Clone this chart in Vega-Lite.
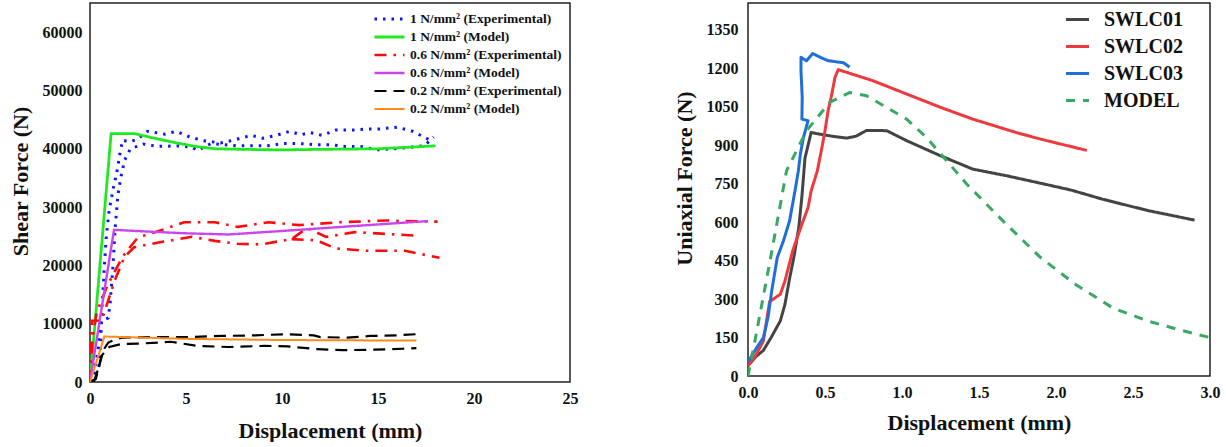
{
"$schema": "https://vega.github.io/schema/vega-lite/v6.json",
"padding": {"left": 8, "top": 2, "right": 0, "bottom": 0},
"background": "white",
"spacing": 93,
"config": {
 "font": "Liberation Serif",
 "view": {"stroke": "#222", "strokeWidth": 1.5},
 "axis": {"domain": false, "ticks": false, "grid": false, "labelFlush": false, "labelFont": "Liberation Serif", "labelFontWeight": "bold", "labelFontSize": 16, "labelColor": "#111", "titleFont": "Liberation Serif", "titleFontWeight": "bold", "titleFontSize": 22, "titleColor": "#111"},
 "legend": {"labelFont": "Liberation Serif", "labelFontWeight": "bold", "labelColor": "#111", "title": null}
},
"resolve": {"scale": {"color": "independent", "strokeDash": "independent", "strokeWidth": "independent", "x": "independent", "y": "independent"}, "legend": {"color": "independent", "strokeDash": "independent", "strokeWidth": "independent"}},
"datasets": {
"shear": [
{"s":"1 N/mm² (Experimental)","r":"b1","i":1,"x":0,"y":0},
{"s":"1 N/mm² (Experimental)","r":"b1","i":2,"x":0.2,"y":1500},
{"s":"1 N/mm² (Experimental)","r":"b1","i":3,"x":0.4,"y":5000},
{"s":"1 N/mm² (Experimental)","r":"b1","i":4,"x":0.55,"y":10000},
{"s":"1 N/mm² (Experimental)","r":"b1","i":5,"x":0.65,"y":14000},
{"s":"1 N/mm² (Experimental)","r":"b1","i":6,"x":0.75,"y":20000},
{"s":"1 N/mm² (Experimental)","r":"b1","i":7,"x":0.85,"y":25000},
{"s":"1 N/mm² (Experimental)","r":"b1","i":8,"x":1.0,"y":29500},
{"s":"1 N/mm² (Experimental)","r":"b1","i":9,"x":1.2,"y":33000},
{"s":"1 N/mm² (Experimental)","r":"b1","i":10,"x":1.4,"y":36000},
{"s":"1 N/mm² (Experimental)","r":"b1","i":11,"x":1.55,"y":39000},
{"s":"1 N/mm² (Experimental)","r":"b1","i":12,"x":1.7,"y":41500},
{"s":"1 N/mm² (Experimental)","r":"b1","i":13,"x":2.0,"y":41200},
{"s":"1 N/mm² (Experimental)","r":"b1","i":14,"x":2.4,"y":41500},
{"s":"1 N/mm² (Experimental)","r":"b1","i":15,"x":3.0,"y":43000},
{"s":"1 N/mm² (Experimental)","r":"b1","i":16,"x":3.9,"y":42500},
{"s":"1 N/mm² (Experimental)","r":"b1","i":17,"x":4.5,"y":43000},
{"s":"1 N/mm² (Experimental)","r":"b1","i":18,"x":5.2,"y":42000},
{"s":"1 N/mm² (Experimental)","r":"b1","i":19,"x":5.9,"y":41400},
{"s":"1 N/mm² (Experimental)","r":"b1","i":20,"x":6.8,"y":41000},
{"s":"1 N/mm² (Experimental)","r":"b1","i":21,"x":7.5,"y":41500},
{"s":"1 N/mm² (Experimental)","r":"b1","i":22,"x":8.4,"y":42300},
{"s":"1 N/mm² (Experimental)","r":"b1","i":23,"x":9.0,"y":41800},
{"s":"1 N/mm² (Experimental)","r":"b1","i":24,"x":9.7,"y":42300},
{"s":"1 N/mm² (Experimental)","r":"b1","i":25,"x":10.4,"y":43000},
{"s":"1 N/mm² (Experimental)","r":"b1","i":26,"x":11.0,"y":42400},
{"s":"1 N/mm² (Experimental)","r":"b1","i":27,"x":11.45,"y":42800},
{"s":"1 N/mm² (Experimental)","r":"b1","i":28,"x":12.1,"y":42300},
{"s":"1 N/mm² (Experimental)","r":"b1","i":29,"x":12.8,"y":43200},
{"s":"1 N/mm² (Experimental)","r":"b1","i":30,"x":13.7,"y":43200},
{"s":"1 N/mm² (Experimental)","r":"b1","i":31,"x":14.5,"y":43400},
{"s":"1 N/mm² (Experimental)","r":"b1","i":32,"x":15.1,"y":43400},
{"s":"1 N/mm² (Experimental)","r":"b1","i":33,"x":16.0,"y":43700},
{"s":"1 N/mm² (Experimental)","r":"b1","i":34,"x":16.8,"y":43000},
{"s":"1 N/mm² (Experimental)","r":"b1","i":35,"x":17.4,"y":42000},
{"s":"1 N/mm² (Experimental)","r":"b1","i":36,"x":17.7,"y":41500},
{"s":"1 N/mm² (Experimental)","r":"b2","i":40,"x":0.1,"y":0},
{"s":"1 N/mm² (Experimental)","r":"b2","i":41,"x":0.45,"y":2300},
{"s":"1 N/mm² (Experimental)","r":"b2","i":42,"x":0.55,"y":6000},
{"s":"1 N/mm² (Experimental)","r":"b2","i":43,"x":0.6,"y":10500},
{"s":"1 N/mm² (Experimental)","r":"b2","i":44,"x":0.95,"y":11000},
{"s":"1 N/mm² (Experimental)","r":"b2","i":45,"x":1.05,"y":13600},
{"s":"1 N/mm² (Experimental)","r":"b2","i":46,"x":1.2,"y":20000},
{"s":"1 N/mm² (Experimental)","r":"b2","i":47,"x":1.3,"y":26000},
{"s":"1 N/mm² (Experimental)","r":"b2","i":48,"x":1.45,"y":32000},
{"s":"1 N/mm² (Experimental)","r":"b2","i":49,"x":1.6,"y":35000},
{"s":"1 N/mm² (Experimental)","r":"b2","i":50,"x":1.8,"y":38000},
{"s":"1 N/mm² (Experimental)","r":"b2","i":51,"x":2.1,"y":40000},
{"s":"1 N/mm² (Experimental)","r":"b2","i":52,"x":2.8,"y":40800},
{"s":"1 N/mm² (Experimental)","r":"b2","i":53,"x":3.5,"y":40400},
{"s":"1 N/mm² (Experimental)","r":"b2","i":54,"x":4.6,"y":40500},
{"s":"1 N/mm² (Experimental)","r":"b2","i":55,"x":5.3,"y":40300},
{"s":"1 N/mm² (Experimental)","r":"b2","i":56,"x":5.6,"y":39700},
{"s":"1 N/mm² (Experimental)","r":"b2","i":57,"x":6.3,"y":40900},
{"s":"1 N/mm² (Experimental)","r":"b2","i":58,"x":7.0,"y":40700},
{"s":"1 N/mm² (Experimental)","r":"b2","i":59,"x":7.7,"y":40500},
{"s":"1 N/mm² (Experimental)","r":"b2","i":60,"x":8.3,"y":40500},
{"s":"1 N/mm² (Experimental)","r":"b2","i":61,"x":9.2,"y":40500},
{"s":"1 N/mm² (Experimental)","r":"b2","i":62,"x":10.1,"y":40900},
{"s":"1 N/mm² (Experimental)","r":"b2","i":63,"x":10.9,"y":40900},
{"s":"1 N/mm² (Experimental)","r":"b2","i":64,"x":11.65,"y":40700},
{"s":"1 N/mm² (Experimental)","r":"b2","i":65,"x":12.5,"y":40700},
{"s":"1 N/mm² (Experimental)","r":"b2","i":66,"x":13.3,"y":40400},
{"s":"1 N/mm² (Experimental)","r":"b2","i":67,"x":14.1,"y":40400},
{"s":"1 N/mm² (Experimental)","r":"b2","i":68,"x":14.9,"y":39800},
{"s":"1 N/mm² (Experimental)","r":"b2","i":69,"x":15.75,"y":40000},
{"s":"1 N/mm² (Experimental)","r":"b2","i":70,"x":16.5,"y":40200},
{"s":"1 N/mm² (Experimental)","r":"b2","i":71,"x":17.4,"y":40500},
{"s":"1 N/mm² (Experimental)","r":"b2","i":72,"x":17.9,"y":42000},
{"s":"1 N/mm² (Model)","r":"g","i":80,"x":0,"y":0},
{"s":"1 N/mm² (Model)","r":"g","i":81,"x":1.1,"y":42600},
{"s":"1 N/mm² (Model)","r":"g","i":82,"x":2.3,"y":42600},
{"s":"1 N/mm² (Model)","r":"g","i":83,"x":3.5,"y":41700},
{"s":"1 N/mm² (Model)","r":"g","i":84,"x":4.5,"y":41000},
{"s":"1 N/mm² (Model)","r":"g","i":85,"x":5.5,"y":40400},
{"s":"1 N/mm² (Model)","r":"g","i":86,"x":6.5,"y":40000},
{"s":"1 N/mm² (Model)","r":"g","i":87,"x":8,"y":39900},
{"s":"1 N/mm² (Model)","r":"g","i":88,"x":10,"y":39800},
{"s":"1 N/mm² (Model)","r":"g","i":89,"x":12,"y":39900},
{"s":"1 N/mm² (Model)","r":"g","i":90,"x":15,"y":40000},
{"s":"1 N/mm² (Model)","r":"g","i":91,"x":18,"y":40500},
{"s":"0.6 N/mm² (Experimental)","r":"r1","i":100,"x":0,"y":0},
{"s":"0.6 N/mm² (Experimental)","r":"r1","i":101,"x":0.1,"y":6000},
{"s":"0.6 N/mm² (Experimental)","r":"r1","i":102,"x":0.2,"y":9000},
{"s":"0.6 N/mm² (Experimental)","r":"r1","i":103,"x":0.35,"y":12000},
{"s":"0.6 N/mm² (Experimental)","r":"r1","i":104,"x":0.6,"y":14000},
{"s":"0.6 N/mm² (Experimental)","r":"r1","i":105,"x":0.9,"y":16500},
{"s":"0.6 N/mm² (Experimental)","r":"r1","i":106,"x":1.3,"y":19000},
{"s":"0.6 N/mm² (Experimental)","r":"r1","i":107,"x":1.7,"y":21500},
{"s":"0.6 N/mm² (Experimental)","r":"r1","i":108,"x":2.1,"y":23200},
{"s":"0.6 N/mm² (Experimental)","r":"r1","i":109,"x":2.5,"y":24800},
{"s":"0.6 N/mm² (Experimental)","r":"r1","i":110,"x":3.5,"y":25800},
{"s":"0.6 N/mm² (Experimental)","r":"r1","i":111,"x":4.9,"y":27400},
{"s":"0.6 N/mm² (Experimental)","r":"r1","i":112,"x":6.5,"y":27400},
{"s":"0.6 N/mm² (Experimental)","r":"r1","i":113,"x":7.7,"y":26600},
{"s":"0.6 N/mm² (Experimental)","r":"r1","i":114,"x":9.3,"y":27400},
{"s":"0.6 N/mm² (Experimental)","r":"r1","i":115,"x":10.9,"y":26900},
{"s":"0.6 N/mm² (Experimental)","r":"r1","i":116,"x":13,"y":27400},
{"s":"0.6 N/mm² (Experimental)","r":"r1","i":117,"x":15.4,"y":27700},
{"s":"0.6 N/mm² (Experimental)","r":"r1","i":118,"x":18.1,"y":27500},
{"s":"0.6 N/mm² (Experimental)","r":"r2","i":120,"x":0,"y":0},
{"s":"0.6 N/mm² (Experimental)","r":"r2","i":121,"x":0.1,"y":10500},
{"s":"0.6 N/mm² (Experimental)","r":"r2","i":122,"x":0.6,"y":10500},
{"s":"0.6 N/mm² (Experimental)","r":"r2","i":123,"x":0.9,"y":13500},
{"s":"0.6 N/mm² (Experimental)","r":"r2","i":124,"x":1.3,"y":17500},
{"s":"0.6 N/mm² (Experimental)","r":"r2","i":125,"x":1.8,"y":21500},
{"s":"0.6 N/mm² (Experimental)","r":"r2","i":126,"x":2.3,"y":23100},
{"s":"0.6 N/mm² (Experimental)","r":"r2","i":127,"x":3.7,"y":24000},
{"s":"0.6 N/mm² (Experimental)","r":"r2","i":128,"x":5.3,"y":24900},
{"s":"0.6 N/mm² (Experimental)","r":"r2","i":129,"x":6.5,"y":24200},
{"s":"0.6 N/mm² (Experimental)","r":"r2","i":130,"x":7.7,"y":23700},
{"s":"0.6 N/mm² (Experimental)","r":"r2","i":131,"x":8.9,"y":23600},
{"s":"0.6 N/mm² (Experimental)","r":"r2","i":132,"x":10.5,"y":24500},
{"s":"0.6 N/mm² (Experimental)","r":"r2","i":133,"x":11.3,"y":26400},
{"s":"0.6 N/mm² (Experimental)","r":"r2","i":134,"x":12.3,"y":24900},
{"s":"0.6 N/mm² (Experimental)","r":"r2","i":135,"x":13.8,"y":25700},
{"s":"0.6 N/mm² (Experimental)","r":"r2","i":136,"x":15.4,"y":25400},
{"s":"0.6 N/mm² (Experimental)","r":"r2","i":137,"x":17.0,"y":25100},
{"s":"0.6 N/mm² (Experimental)","r":"r3","i":140,"x":10.5,"y":24500},
{"s":"0.6 N/mm² (Experimental)","r":"r3","i":141,"x":11.8,"y":24300},
{"s":"0.6 N/mm² (Experimental)","r":"r3","i":142,"x":12.8,"y":22900},
{"s":"0.6 N/mm² (Experimental)","r":"r3","i":143,"x":14.4,"y":22500},
{"s":"0.6 N/mm² (Experimental)","r":"r3","i":144,"x":16.4,"y":22500},
{"s":"0.6 N/mm² (Experimental)","r":"r3","i":145,"x":18.2,"y":21300},
{"s":"0.6 N/mm² (Model)","r":"p","i":150,"x":0,"y":0},
{"s":"0.6 N/mm² (Model)","r":"p","i":151,"x":1.25,"y":26100},
{"s":"0.6 N/mm² (Model)","r":"p","i":152,"x":3,"y":25800},
{"s":"0.6 N/mm² (Model)","r":"p","i":153,"x":5,"y":25500},
{"s":"0.6 N/mm² (Model)","r":"p","i":154,"x":7.2,"y":25300},
{"s":"0.6 N/mm² (Model)","r":"p","i":155,"x":10,"y":25900},
{"s":"0.6 N/mm² (Model)","r":"p","i":156,"x":14,"y":26800},
{"s":"0.6 N/mm² (Model)","r":"p","i":157,"x":17.6,"y":27600},
{"s":"0.2 N/mm² (Experimental)","r":"k1","i":160,"x":0,"y":0},
{"s":"0.2 N/mm² (Experimental)","r":"k1","i":161,"x":0.3,"y":500},
{"s":"0.2 N/mm² (Experimental)","r":"k1","i":162,"x":0.5,"y":3000},
{"s":"0.2 N/mm² (Experimental)","r":"k1","i":163,"x":0.7,"y":5500},
{"s":"0.2 N/mm² (Experimental)","r":"k1","i":164,"x":0.95,"y":6750},
{"s":"0.2 N/mm² (Experimental)","r":"k1","i":165,"x":1.3,"y":7300},
{"s":"0.2 N/mm² (Experimental)","r":"k1","i":166,"x":1.65,"y":7600},
{"s":"0.2 N/mm² (Experimental)","r":"k1","i":167,"x":3.4,"y":7700},
{"s":"0.2 N/mm² (Experimental)","r":"k1","i":168,"x":5.1,"y":7700},
{"s":"0.2 N/mm² (Experimental)","r":"k1","i":169,"x":6.85,"y":7900},
{"s":"0.2 N/mm² (Experimental)","r":"k1","i":170,"x":8.6,"y":8000},
{"s":"0.2 N/mm² (Experimental)","r":"k1","i":171,"x":10.2,"y":8200},
{"s":"0.2 N/mm² (Experimental)","r":"k1","i":172,"x":11.65,"y":8000},
{"s":"0.2 N/mm² (Experimental)","r":"k1","i":173,"x":12,"y":7700},
{"s":"0.2 N/mm² (Experimental)","r":"k1","i":174,"x":13.4,"y":7600},
{"s":"0.2 N/mm² (Experimental)","r":"k1","i":175,"x":14.6,"y":7900},
{"s":"0.2 N/mm² (Experimental)","r":"k1","i":176,"x":16,"y":8000},
{"s":"0.2 N/mm² (Experimental)","r":"k1","i":177,"x":17,"y":8200},
{"s":"0.2 N/mm² (Experimental)","r":"k1","i":178,"x":17.2,"y":8500},
{"s":"0.2 N/mm² (Experimental)","r":"k2","i":180,"x":0.2,"y":0},
{"s":"0.2 N/mm² (Experimental)","r":"k2","i":181,"x":0.45,"y":2500},
{"s":"0.2 N/mm² (Experimental)","r":"k2","i":182,"x":0.6,"y":4500},
{"s":"0.2 N/mm² (Experimental)","r":"k2","i":183,"x":1.0,"y":6000},
{"s":"0.2 N/mm² (Experimental)","r":"k2","i":184,"x":1.6,"y":6500},
{"s":"0.2 N/mm² (Experimental)","r":"k2","i":185,"x":2.7,"y":6600},
{"s":"0.2 N/mm² (Experimental)","r":"k2","i":186,"x":4.2,"y":6900},
{"s":"0.2 N/mm² (Experimental)","r":"k2","i":187,"x":5.6,"y":6200},
{"s":"0.2 N/mm² (Experimental)","r":"k2","i":188,"x":7.2,"y":6000},
{"s":"0.2 N/mm² (Experimental)","r":"k2","i":189,"x":9.1,"y":6200},
{"s":"0.2 N/mm² (Experimental)","r":"k2","i":190,"x":10.3,"y":6100},
{"s":"0.2 N/mm² (Experimental)","r":"k2","i":191,"x":11.75,"y":5650},
{"s":"0.2 N/mm² (Experimental)","r":"k2","i":192,"x":13.2,"y":5450},
{"s":"0.2 N/mm² (Experimental)","r":"k2","i":193,"x":14.8,"y":5550},
{"s":"0.2 N/mm² (Experimental)","r":"k2","i":194,"x":16.3,"y":5700},
{"s":"0.2 N/mm² (Experimental)","r":"k2","i":195,"x":17,"y":5800},
{"s":"0.2 N/mm² (Model)","r":"o","i":200,"x":0,"y":0},
{"s":"0.2 N/mm² (Model)","r":"o","i":201,"x":0.75,"y":7800},
{"s":"0.2 N/mm² (Model)","r":"o","i":202,"x":5,"y":7400},
{"s":"0.2 N/mm² (Model)","r":"o","i":203,"x":10,"y":7200},
{"s":"0.2 N/mm² (Model)","r":"o","i":204,"x":17,"y":7100}
],
"uni": [
{"s":"SWLC01","i":1,"x":0,"y":40},{"s":"SWLC01","i":2,"x":0.05,"y":75},{"s":"SWLC01","i":3,"x":0.1,"y":100},{"s":"SWLC01","i":4,"x":0.15,"y":150},{"s":"SWLC01","i":5,"x":0.21,"y":215},{"s":"SWLC01","i":6,"x":0.24,"y":280},{"s":"SWLC01","i":7,"x":0.27,"y":380},{"s":"SWLC01","i":8,"x":0.3,"y":470},{"s":"SWLC01","i":9,"x":0.33,"y":580},{"s":"SWLC01","i":10,"x":0.35,"y":700},{"s":"SWLC01","i":11,"x":0.37,"y":850},{"s":"SWLC01","i":12,"x":0.39,"y":900},{"s":"SWLC01","i":13,"x":0.41,"y":950},{"s":"SWLC01","i":14,"x":0.45,"y":945},{"s":"SWLC01","i":15,"x":0.55,"y":935},{"s":"SWLC01","i":16,"x":0.64,"y":928},{"s":"SWLC01","i":17,"x":0.7,"y":935},{"s":"SWLC01","i":18,"x":0.77,"y":958},{"s":"SWLC01","i":19,"x":0.9,"y":957},{"s":"SWLC01","i":20,"x":1.03,"y":918},{"s":"SWLC01","i":21,"x":1.25,"y":859},{"s":"SWLC01","i":22,"x":1.46,"y":807},{"s":"SWLC01","i":23,"x":1.68,"y":781},{"s":"SWLC01","i":24,"x":1.9,"y":752},{"s":"SWLC01","i":25,"x":2.1,"y":725},{"s":"SWLC01","i":26,"x":2.3,"y":690},{"s":"SWLC01","i":27,"x":2.6,"y":645},{"s":"SWLC01","i":28,"x":2.9,"y":608},
{"s":"SWLC02","i":30,"x":0,"y":40},{"s":"SWLC02","i":31,"x":0.05,"y":80},{"s":"SWLC02","i":32,"x":0.1,"y":137},{"s":"SWLC02","i":33,"x":0.14,"y":290},{"s":"SWLC02","i":34,"x":0.21,"y":319},{"s":"SWLC02","i":35,"x":0.24,"y":371},{"s":"SWLC02","i":36,"x":0.29,"y":488},{"s":"SWLC02","i":37,"x":0.35,"y":592},{"s":"SWLC02","i":38,"x":0.39,"y":657},{"s":"SWLC02","i":39,"x":0.41,"y":722},{"s":"SWLC02","i":40,"x":0.45,"y":800},{"s":"SWLC02","i":41,"x":0.48,"y":891},{"s":"SWLC02","i":42,"x":0.5,"y":957},{"s":"SWLC02","i":43,"x":0.52,"y":1035},{"s":"SWLC02","i":44,"x":0.54,"y":1087},{"s":"SWLC02","i":45,"x":0.565,"y":1165},{"s":"SWLC02","i":46,"x":0.586,"y":1195},{"s":"SWLC02","i":47,"x":0.81,"y":1152},{"s":"SWLC02","i":48,"x":1.03,"y":1100},{"s":"SWLC02","i":49,"x":1.25,"y":1048},{"s":"SWLC02","i":50,"x":1.46,"y":1002},{"s":"SWLC02","i":51,"x":1.74,"y":950},{"s":"SWLC02","i":52,"x":1.9,"y":924},{"s":"SWLC02","i":53,"x":2.2,"y":880},
{"s":"SWLC03","i":60,"x":0,"y":55},{"s":"SWLC03","i":61,"x":0.056,"y":110},{"s":"SWLC03","i":62,"x":0.1,"y":150},{"s":"SWLC03","i":63,"x":0.13,"y":228},{"s":"SWLC03","i":64,"x":0.154,"y":332},{"s":"SWLC03","i":65,"x":0.19,"y":462},{"s":"SWLC03","i":66,"x":0.23,"y":527},{"s":"SWLC03","i":67,"x":0.27,"y":605},{"s":"SWLC03","i":68,"x":0.305,"y":722},{"s":"SWLC03","i":69,"x":0.327,"y":800},{"s":"SWLC03","i":70,"x":0.34,"y":866},{"s":"SWLC03","i":71,"x":0.36,"y":930},{"s":"SWLC03","i":72,"x":0.39,"y":996},{"s":"SWLC03","i":73,"x":0.35,"y":1002},{"s":"SWLC03","i":74,"x":0.352,"y":1087},{"s":"SWLC03","i":75,"x":0.344,"y":1191},{"s":"SWLC03","i":76,"x":0.344,"y":1243},{"s":"SWLC03","i":77,"x":0.38,"y":1230},{"s":"SWLC03","i":78,"x":0.42,"y":1258},{"s":"SWLC03","i":79,"x":0.47,"y":1243},{"s":"SWLC03","i":80,"x":0.52,"y":1230},{"s":"SWLC03","i":81,"x":0.62,"y":1222},{"s":"SWLC03","i":82,"x":0.66,"y":1205},
{"s":"MODEL","i":90,"x":0,"y":0},{"s":"MODEL","i":91,"x":0.045,"y":137},{"s":"MODEL","i":92,"x":0.143,"y":449},{"s":"MODEL","i":93,"x":0.25,"y":800},{"s":"MODEL","i":94,"x":0.38,"y":957},{"s":"MODEL","i":95,"x":0.53,"y":1067},{"s":"MODEL","i":96,"x":0.66,"y":1106},{"s":"MODEL","i":97,"x":0.77,"y":1093},{"s":"MODEL","i":98,"x":1.03,"y":1002},{"s":"MODEL","i":99,"x":1.16,"y":930},{"s":"MODEL","i":100,"x":1.29,"y":840},{"s":"MODEL","i":101,"x":1.42,"y":749},{"s":"MODEL","i":102,"x":1.66,"y":602},{"s":"MODEL","i":103,"x":1.9,"y":462},{"s":"MODEL","i":104,"x":2.13,"y":356},{"s":"MODEL","i":105,"x":2.37,"y":265},{"s":"MODEL","i":106,"x":2.6,"y":214},{"s":"MODEL","i":107,"x":2.8,"y":180},{"s":"MODEL","i":108,"x":3.0,"y":150}
]
},
"hconcat": [
{
 "width": 480, "height": 379,
 "data": {"name": "shear"},
 "mark": {"type": "line", "strokeCap": "butt", "clip": true},
 "encoding": {
  "x": {"field": "x", "type": "quantitative", "scale": {"domain": [0, 25], "nice": false}, "axis": {"values": [0, 5, 10, 15, 20, 25], "title": "Displacement (mm)", "labelPadding": 8, "titlePadding": 14}},
  "y": {"field": "y", "type": "quantitative", "scale": {"domain": [0, 65000], "nice": false}, "axis": {"values": [0, 10000, 20000, 30000, 40000, 50000, 60000], "format": "d", "title": "Shear Force (N)", "labelPadding": 8, "titlePadding": 10, "titleY": 178}},
  "color": {"field": "s", "type": "nominal", "scale": {"domain": ["1 N/mm² (Experimental)", "1 N/mm² (Model)", "0.6 N/mm² (Experimental)", "0.6 N/mm² (Model)", "0.2 N/mm² (Experimental)", "0.2 N/mm² (Model)"], "range": ["#0a14ff", "#22e822", "#ff0a0a", "#cc44ee", "#000000", "#ff8a1a"]}, "legend": {"orient": "none", "legendX": 283, "legendY": 7, "symbolType": "stroke", "symbolSize": 900, "labelFontSize": 13.5, "clipHeight": 18, "rowPadding": 0, "labelOffset": 4, "padding": 0}},
  "strokeDash": {"field": "s", "type": "nominal", "scale": {"domain": ["1 N/mm² (Experimental)", "1 N/mm² (Model)", "0.6 N/mm² (Experimental)", "0.6 N/mm² (Model)", "0.2 N/mm² (Experimental)", "0.2 N/mm² (Model)"], "range": [[2.5, 6], [1, 0], [12, 7, 2.5, 7], [1, 0], [12, 7], [1, 0]]}},
  "strokeWidth": {"field": "s", "type": "nominal", "scale": {"domain": ["1 N/mm² (Experimental)", "1 N/mm² (Model)", "0.6 N/mm² (Experimental)", "0.6 N/mm² (Model)", "0.2 N/mm² (Experimental)", "0.2 N/mm² (Model)"], "range": [3, 2, 4, 2, 4, 2]}},
  "detail": {"field": "r", "type": "nominal"},
  "order": {"field": "i", "type": "quantitative"}
 }
},
{
 "width": 462, "height": 373,
 "data": {"name": "uni"},
 "mark": {"type": "line", "strokeCap": "butt", "strokeJoin": "round", "clip": true},
 "encoding": {
  "x": {"field": "x", "type": "quantitative", "scale": {"domain": [0, 3], "nice": false}, "axis": {"values": [0, 0.5, 1, 1.5, 2, 2.5, 3], "format": ".1f", "title": "Displacement (mm)", "labelPadding": 8, "titlePadding": 12}},
  "y": {"field": "y", "type": "quantitative", "scale": {"domain": [0, 1455], "nice": false}, "axis": {"values": [0, 150, 300, 450, 600, 750, 900, 1050, 1200, 1350], "format": "d", "title": "Uniaxial Force (N)", "labelPadding": 10, "titlePadding": 10, "titleY": 175}},
  "color": {"field": "s", "type": "nominal", "scale": {"domain": ["SWLC01", "SWLC02", "SWLC03", "MODEL"], "range": ["#444444", "#ee3a3f", "#1f6fdb", "#38a862"]}, "legend": {"orient": "none", "legendX": 316, "legendY": 3, "symbolType": "stroke", "symbolSize": 530, "labelFontSize": 20, "clipHeight": 27, "rowPadding": 0, "labelOffset": 13, "padding": 0}},
  "strokeDash": {"field": "s", "type": "nominal", "scale": {"domain": ["SWLC01", "SWLC02", "SWLC03", "MODEL"], "range": [[1, 0], [1, 0], [1, 0], [9, 8]]}},
  "strokeWidth": {"field": "s", "type": "nominal", "scale": {"domain": ["SWLC01", "SWLC02", "SWLC03", "MODEL"], "range": [3, 3, 3, 3]}},
  "order": {"field": "i", "type": "quantitative"}
 }
}
]
}
